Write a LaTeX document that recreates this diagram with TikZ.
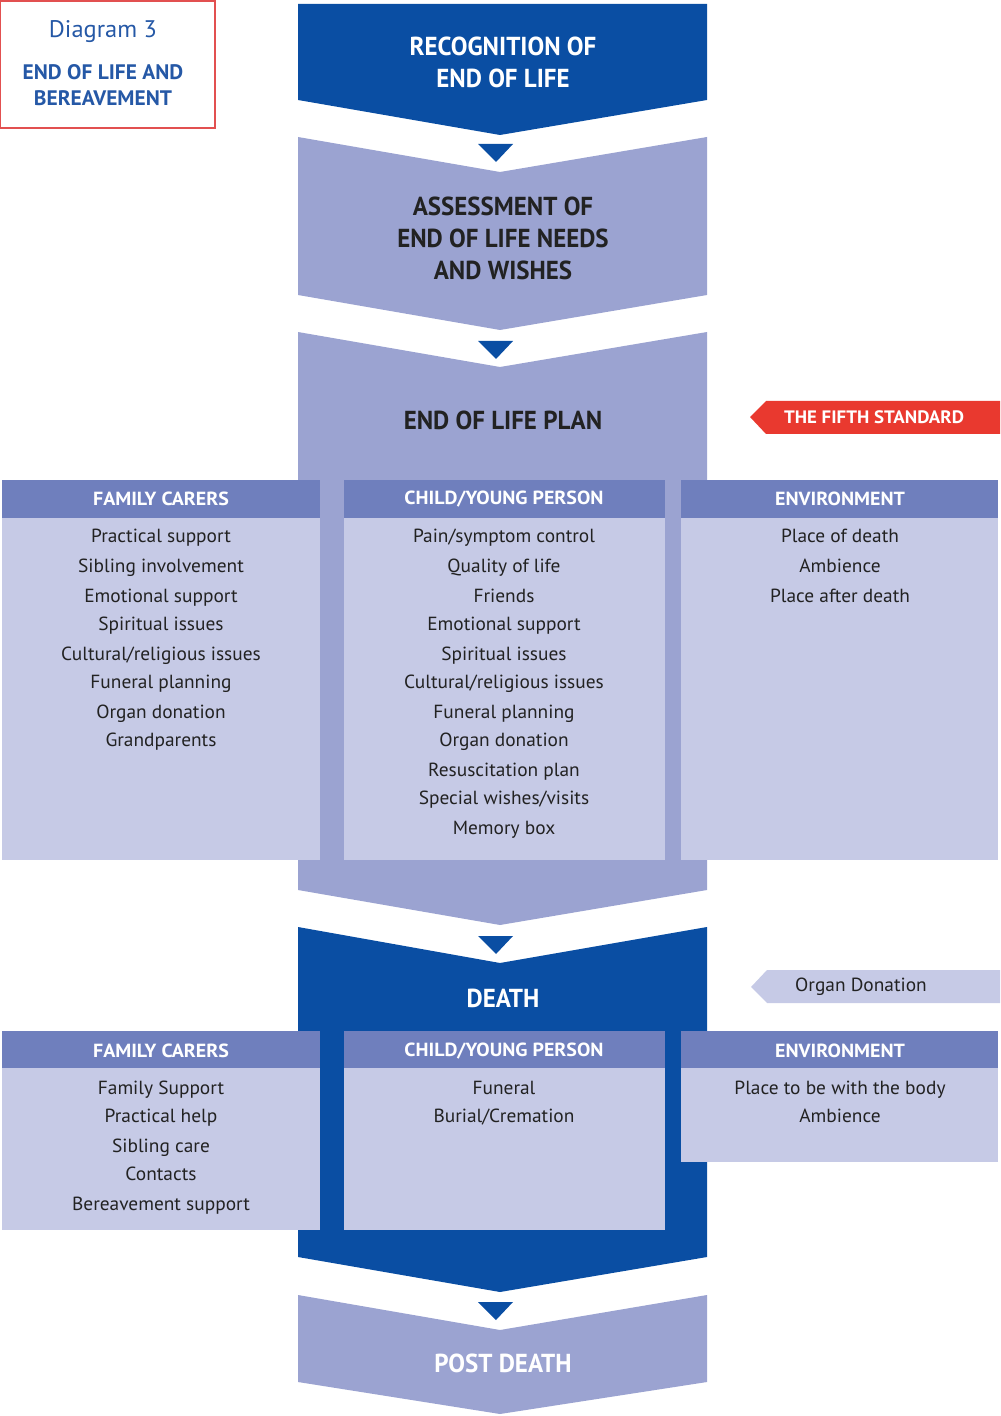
\documentclass[tikz,border=0pt]{standalone}
\usepackage{fontspec}
\setmainfont{PT Sans}
\newfontfamily\bodyfont[FakeStretch=1.02]{PT Sans}
\newfontfamily\headfont[FakeStretch=1.05]{PT Sans}
\newfontfamily\bigfont[FakeStretch=0.96]{PT Sans}
\usetikzlibrary{positioning}
\definecolor{deepblue}{RGB}{10,78,163}
\definecolor{chevblue}{RGB}{155,163,209}
\definecolor{headblue}{RGB}{111,127,189}
\definecolor{cellblue}{RGB}{198,202,230}
\definecolor{tagred}{RGB}{233,57,47}
\definecolor{framered}{RGB}{226,80,80}
\definecolor{inkblue}{RGB}{37,88,166}
\definecolor{ink}{RGB}{34,34,34}

\begin{document}
\begin{tikzpicture}
    [
    x=0.5pt, y=-0.5pt,
    arrowmark/.style={fill=deepblue},
    headcell/.style={fill=headblue},
    bodycell/.style={fill=cellblue},
    title/.style={font=\bigfont\bfseries\fontsize{13}{16}\selectfont, align=center, inner sep=0pt},
    colhead/.style={font=\headfont\bfseries\fontsize{9.5}{11}\selectfont, text=white, inner sep=0pt},
    item/.style={font=\bodyfont\fontsize{9.5}{11}\selectfont, text=ink, text height=7pt, text depth=2pt, inner sep=0pt},
    ]
    \useasboundingbox (0,0) rectangle (1000,1416);

    % the five steps
    \fill [deepblue] (298,4) -- (707,4) -- (707,100) -- (500,135) -- (298,100) -- cycle;
    \fill [chevblue] (298,137) -- (500,172) -- (707,137) -- (707,295) -- (500,330) -- (298,295) -- cycle;
    \fill [chevblue] (298,332) -- (500,367) -- (707,332) -- (707,890) -- (500,925) -- (298,890) -- cycle;
    \fill [deepblue] (298,927) -- (500,963) -- (707,927) -- (707,1257) -- (500,1292) -- (298,1257) -- cycle;
    \fill [chevblue] (298,1295) -- (500,1330) -- (707,1295) -- (707,1382) -- (500,1414) -- (298,1382) -- cycle;
    \fill [arrowmark] (478,144) -- (513,144) -- (496,162) -- cycle;
    \fill [arrowmark] (478,341) -- (513,341) -- (496,359) -- cycle;
    \fill [arrowmark] (478,936) -- (513,936) -- (496,954) -- cycle;
    \fill [arrowmark] (478,1302) -- (513,1302) -- (496,1320) -- cycle;

    \node (recog) at (503,62) [title, text=white] {RECOGNITION OF\\END OF LIFE};
    \node (assess) at (503,238) [title, text=ink] {ASSESSMENT OF\\END OF LIFE NEEDS\\AND WISHES};
    \node (plan) at (503,420) [title, text=ink] {END OF LIFE PLAN};
    \node (death) at (503,998) [title, text=white] {DEATH};
    \node (post) at (503,1363) [title, text=white] {POST DEATH};

    % diagram label
    \draw [framered, line width=1pt] (0,1) rectangle (215,128);
    \node (diag) at (103,32) [font=\bodyfont\fontsize{12}{14}\selectfont, text=inkblue] {Diagram 3};
    \node (diagtitle) at (103,85) [font=\bodyfont\bfseries\fontsize{10.5}{13}\selectfont, text=inkblue, align=center, inner sep=0pt] {END OF LIFE AND\\BEREAVEMENT};

    % tags
    \fill [tagred] (750,417) -- (766,401) -- (1000,401) -- (1000,434) -- (766,434) -- cycle;
    \node (fifth) at (874,417) [colhead, font=\headfont\bfseries\fontsize{9}{11}\selectfont] {THE FIFTH STANDARD};
    \fill [cellblue] (751,987) -- (767,970) -- (1000,970) -- (1000,1003) -- (767,1003) -- cycle;
    \node (organ) at (861,986) [item] {Organ Donation};

    % plan table
    \fill [headcell] (2,480) rectangle (320,518);
    \fill [headcell] (344,480) rectangle (665,518);
    \fill [headcell] (681,480) rectangle (998,518);
    \fill [bodycell] (2,518) rectangle (320,860);
    \fill [bodycell] (344,518) rectangle (665,860);
    \fill [bodycell] (681,518) rectangle (998,860);
    \node (fc) at (161,499) [colhead] {FAMILY CARERS};
    \node (cy) at (504,499) [colhead] {CHILD/YOUNG PERSON};
    \node (env) at (840,499) [colhead] {ENVIRONMENT};

    \node (fc1) at (161,537) [item] {Practical support};
    \node (fc2) at (161,567) [item] {Sibling involvement};
    \node (fc3) at (161,597) [item] {Emotional support};
    \node (fc4) at (161,625) [item] {Spiritual issues};
    \node (fc5) at (161,655) [item] {Cultural/religious issues};
    \node (fc6) at (161,683) [item] {Funeral planning};
    \node (fc7) at (161,713) [item] {Organ donation};
    \node (fc8) at (161,741) [item] {Grandparents};

    \node (cy1) at (504,537) [item] {Pain/symptom control};
    \node (cy2) at (504,567) [item] {Quality of life};
    \node (cy3) at (504,597) [item] {Friends};
    \node (cy4) at (504,625) [item] {Emotional support};
    \node (cy5) at (504,655) [item] {Spiritual issues};
    \node (cy6) at (504,683) [item] {Cultural/religious issues};
    \node (cy7) at (504,713) [item] {Funeral planning};
    \node (cy8) at (504,741) [item] {Organ donation};
    \node (cy9) at (504,771) [item] {Resuscitation plan};
    \node (cy10) at (504,799) [item] {Special wishes/visits};
    \node (cy11) at (504,829) [item] {Memory box};

    \node (env1) at (840,537) [item] {Place of death};
    \node (env2) at (840,567) [item] {Ambience};
    \node (env3) at (840,597) [item] {Place after death};

    % death table
    \fill [headcell] (2,1031) rectangle (320,1068);
    \fill [headcell] (344,1031) rectangle (665,1068);
    \fill [headcell] (681,1031) rectangle (998,1068);
    \fill [bodycell] (2,1068) rectangle (320,1230);
    \fill [bodycell] (344,1068) rectangle (665,1230);
    \fill [bodycell] (681,1068) rectangle (998,1162);
    \node (dfc) at (161,1051) [colhead] {FAMILY CARERS};
    \node (dcy) at (504,1051) [colhead] {CHILD/YOUNG PERSON};
    \node (denv) at (840,1051) [colhead] {ENVIRONMENT};

    \node (dfc1) at (161,1089) [item] {Family Support};
    \node (dfc2) at (161,1117) [item] {Practical help};
    \node (dfc3) at (161,1147) [item] {Sibling care};
    \node (dfc4) at (161,1175) [item] {Contacts};
    \node (dfc5) at (161,1205) [item] {Bereavement support};

    \node (dcy1) at (504,1089) [item] {Funeral};
    \node (dcy2) at (504,1117) [item] {Burial/Cremation};

    \node (denv1) at (840,1089) [item] {Place to be with the body};
    \node (denv2) at (840,1117) [item] {Ambience};
  \end{tikzpicture}
\end{document}
